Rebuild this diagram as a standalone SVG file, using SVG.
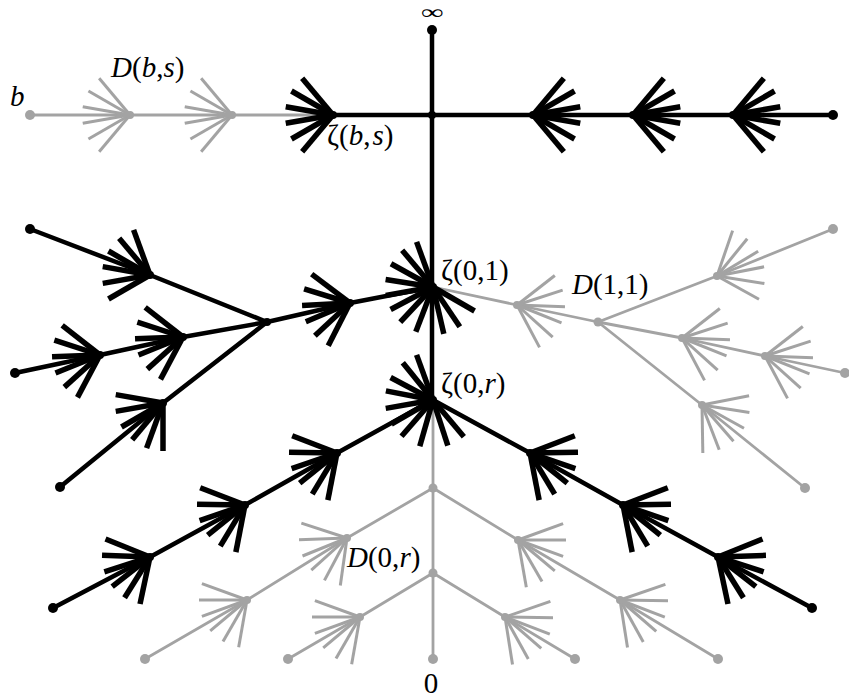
<svg xmlns="http://www.w3.org/2000/svg" width="849" height="698" viewBox="0 0 849 698">
<style>
.eB{stroke:#000;stroke-width:4.5;fill:none;stroke-linecap:round;stroke-linejoin:round}
.eG{stroke:#a3a3a3;stroke-width:2.8;fill:none;stroke-linejoin:round}
.spB{stroke:#000;stroke-width:5.5}
.spG{stroke:#a3a3a3;stroke-width:3}
.dB{fill:#000}
.dG{fill:#a3a3a3}
text{font-family:"Liberation Serif","Times New Roman",serif;font-size:29px;fill:#000}
.it{font-style:italic}
</style>
<defs>
<line id="spk" x1="0" y1="0" x2="48" y2="0"/>
<g id="fan">
<line x1="0" y1="0" x2="30.85" y2="-36.77"/>
<line x1="0" y1="0" x2="41.57" y2="-24"/>
<line x1="0" y1="0" x2="47.27" y2="-8.33"/>
<line x1="0" y1="0" x2="47.27" y2="8.33"/>
<line x1="0" y1="0" x2="41.57" y2="24"/>
<line x1="0" y1="0" x2="30.85" y2="36.77"/>
</g>
</defs>
<rect width="849" height="698" fill="#fff"/>
<g id="connectors">
<g id="gray-edges">
<polyline class="eG" points="30,115 333,115"/>
<polyline class="eG" points="433,287 517,305 598,322"/>
<polyline class="eG" points="598,322 717,276 833,229"/>
<polyline class="eG" points="598,322 682,338 765,356 845,373"/>
<polyline class="eG" points="598,322 702,405 805,488"/>
<polyline class="eG" points="433,400 433,659"/>
<polyline class="eG" points="433,488 347,538 247,600 145,659"/>
<polyline class="eG" points="433,488 518,540 620,600 718,659"/>
<polyline class="eG" points="433,573 360,617 288,659"/>
<polyline class="eG" points="433,573 505,617 575,659"/>
</g>
<g id="black-edges">
<polyline class="eB" points="432,30 432,400"/>
<polyline class="eB" points="333,115 833,115"/>
<polyline class="eB" points="433,287 350,303 267,322"/>
<polyline class="eB" points="267,322 150,275 30,229"/>
<polyline class="eB" points="267,322 183,337 100,355 15,373"/>
<polyline class="eB" points="267,322 163,403 60,487"/>
<polyline class="eB" points="433,400 337,453 245,505 150,557 53,608"/>
<polyline class="eB" points="433,400 530,453 623,505 718,557 812,608"/>
</g>
</g>
<g id="gray-nodes">
<g id="n-b"><circle class="dG" cx="30" cy="115" r="5"/><text x="10" y="106" class="it">b</text></g>
<g id="n-Dbs1"><use href="#fan" class="spG" transform="translate(130,115) rotate(180)"/><circle class="dG" cx="130" cy="115" r="4"/><text x="111" y="77"><tspan class="it">D</tspan>(<tspan class="it">b</tspan>,<tspan class="it">s</tspan>)</text></g>
<g id="n-Dbs2"><use href="#fan" class="spG" transform="translate(232,115) rotate(180)"/><circle class="dG" cx="232" cy="115" r="4"/></g>
<g id="n-D11a"><use href="#fan" class="spG" transform="translate(517,305) rotate(12)"/><circle class="dG" cx="517" cy="305" r="4"/></g>
<g id="n-D11"><circle class="dG" cx="598" cy="322" r="4.5"/><text x="572" y="294"><tspan class="it">D</tspan>(1,1)</text></g>
<g id="n-r1"><use href="#fan" class="spG" transform="translate(717,276) rotate(-21)"/><circle class="dG" cx="717" cy="276" r="4"/></g>
<g id="n-r2"><use href="#fan" class="spG" transform="translate(682,338) rotate(12)"/><circle class="dG" cx="682" cy="338" r="4"/></g>
<g id="n-r3"><use href="#fan" class="spG" transform="translate(765,356) rotate(12)"/><circle class="dG" cx="765" cy="356" r="4"/></g>
<g id="n-r4"><use href="#fan" class="spG" transform="translate(702,405) rotate(39)"/><circle class="dG" cx="702" cy="405" r="4"/></g>
<g id="n-l1"><circle class="dG" cx="833" cy="229" r="5"/></g>
<g id="n-l2"><circle class="dG" cx="845" cy="373" r="5"/></g>
<g id="n-l3"><circle class="dG" cx="805" cy="488" r="5"/></g>
<g id="n-j1"><circle class="dG" cx="433" cy="488" r="4.5"/></g>
<g id="n-j2"><circle class="dG" cx="433" cy="573" r="4.5"/></g>
<g id="n-D0r"><use href="#fan" class="spG" transform="translate(347,538) rotate(148)"/><circle class="dG" cx="347" cy="538" r="4"/><text x="347" y="567"><tspan class="it">D</tspan>(0,<tspan class="it">r</tspan>)</text></g>
<g id="n-g1"><use href="#fan" class="spG" transform="translate(247,600) rotate(150)"/><circle class="dG" cx="247" cy="600" r="4"/></g>
<g id="n-g2"><use href="#fan" class="spG" transform="translate(360,617) rotate(150)"/><circle class="dG" cx="360" cy="617" r="4"/></g>
<g id="n-g3"><use href="#fan" class="spG" transform="translate(518,540) rotate(30)"/><circle class="dG" cx="518" cy="540" r="4"/></g>
<g id="n-g4"><use href="#fan" class="spG" transform="translate(620,600) rotate(31)"/><circle class="dG" cx="620" cy="600" r="4"/></g>
<g id="n-g5"><use href="#fan" class="spG" transform="translate(505,617) rotate(31)"/><circle class="dG" cx="505" cy="617" r="4"/></g>
<g id="n-l4"><circle class="dG" cx="145" cy="659" r="5"/></g>
<g id="n-l5"><circle class="dG" cx="288" cy="659" r="5"/></g>
<g id="n-zero"><circle class="dG" cx="433" cy="659" r="5"/><text x="431" y="693" text-anchor="middle">0</text></g>
<g id="n-l6"><circle class="dG" cx="575" cy="659" r="5"/></g>
<g id="n-l7"><circle class="dG" cx="718" cy="659" r="5"/></g>
</g>
<g id="black-nodes">
<g id="n-inf"><circle class="dB" cx="432" cy="30" r="5"/><text transform="translate(432,19) scale(1.6,1)" text-anchor="middle" style="font-size:20px">∞</text></g>
<g id="n-top"><circle class="dB" cx="432" cy="115" r="4"/></g>
<g id="n-zbs"><use href="#fan" class="spB" transform="translate(333,115) rotate(180)"/><circle class="dB" cx="333" cy="115" r="4"/><text x="327" y="145">ζ(<tspan class="it">b</tspan>,<tspan class="it" dx="2">s</tspan>)</text></g>
<g id="n-t1"><use href="#fan" class="spB" transform="translate(533,115)"/><circle class="dB" cx="533" cy="115" r="4"/></g>
<g id="n-t2"><use href="#fan" class="spB" transform="translate(633,115)"/><circle class="dB" cx="633" cy="115" r="4"/></g>
<g id="n-t3"><use href="#fan" class="spB" transform="translate(733,115)"/><circle class="dB" cx="733" cy="115" r="4"/></g>
<g id="n-t4"><circle class="dB" cx="833" cy="115" r="5"/></g>
<g id="n-z01">
<g class="spB" transform="translate(433,287)">
<use href="#spk" transform="rotate(250)"/><use href="#spk" transform="rotate(230)"/><use href="#spk" transform="rotate(209)"/><use href="#spk" transform="rotate(189)"/><use href="#spk" transform="rotate(170)"/><use href="#spk" transform="rotate(152)"/><use href="#spk" transform="rotate(133)"/><use href="#spk" transform="rotate(111)"/><use href="#spk" transform="rotate(77)"/><use href="#spk" transform="rotate(56)"/><use href="#spk" transform="rotate(30)"/>
</g>
<circle class="dB" cx="433" cy="287" r="4"/><text x="441" y="280">ζ(0,1)</text></g>
<g id="n-z0r">
<g class="spB" transform="translate(433,400)">
<use href="#spk" transform="rotate(250)"/><use href="#spk" transform="rotate(231)"/><use href="#spk" transform="rotate(208)"/><use href="#spk" transform="rotate(191)"/><use href="#spk" transform="rotate(170)"/><use href="#spk" transform="rotate(150)"/><use href="#spk" transform="rotate(131)"/><use href="#spk" transform="rotate(106)"/><use href="#spk" transform="rotate(72)"/><use href="#spk" transform="rotate(50)"/>
</g>
<circle class="dB" cx="433" cy="400" r="4"/><text x="441" y="393">ζ(0,<tspan class="it">r</tspan>)</text></g>
<g id="n-a1"><use href="#fan" class="spB" transform="translate(350,303) rotate(167)"/><circle class="dB" cx="350" cy="303" r="4"/></g>
<g id="n-aj"><circle class="dB" cx="267" cy="322" r="4"/></g>
<g id="n-a2"><use href="#fan" class="spB" transform="translate(150,275) rotate(200)"/><circle class="dB" cx="150" cy="275" r="4"/></g>
<g id="n-a3"><use href="#fan" class="spB" transform="translate(183,337) rotate(168)"/><circle class="dB" cx="183" cy="337" r="4"/></g>
<g id="n-a4"><use href="#fan" class="spB" transform="translate(100,355) rotate(168)"/><circle class="dB" cx="100" cy="355" r="4"/></g>
<g id="n-a5"><use href="#fan" class="spB" transform="translate(163,403) rotate(140)"/><circle class="dB" cx="163" cy="403" r="4"/></g>
<g id="n-al1"><circle class="dB" cx="30" cy="229" r="5"/></g>
<g id="n-al2"><circle class="dB" cx="15" cy="373" r="5"/></g>
<g id="n-al3"><circle class="dB" cx="60" cy="487" r="5"/></g>
<g id="n-b1"><use href="#fan" class="spB" transform="translate(337,453) rotate(151)"/><circle class="dB" cx="337" cy="453" r="4"/></g>
<g id="n-b2"><use href="#fan" class="spB" transform="translate(245,505) rotate(151)"/><circle class="dB" cx="245" cy="505" r="4"/></g>
<g id="n-b3"><use href="#fan" class="spB" transform="translate(150,557) rotate(152)"/><circle class="dB" cx="150" cy="557" r="4"/></g>
<g id="n-bl"><circle class="dB" cx="53" cy="608" r="5"/></g>
<g id="n-c1"><use href="#fan" class="spB" transform="translate(530,453) rotate(29)"/><circle class="dB" cx="530" cy="453" r="4"/></g>
<g id="n-c2"><use href="#fan" class="spB" transform="translate(623,505) rotate(29)"/><circle class="dB" cx="623" cy="505" r="4"/></g>
<g id="n-c3"><use href="#fan" class="spB" transform="translate(718,557) rotate(28)"/><circle class="dB" cx="718" cy="557" r="4"/></g>
<g id="n-cl"><circle class="dB" cx="812" cy="608" r="5"/></g>
</g>
</svg>
